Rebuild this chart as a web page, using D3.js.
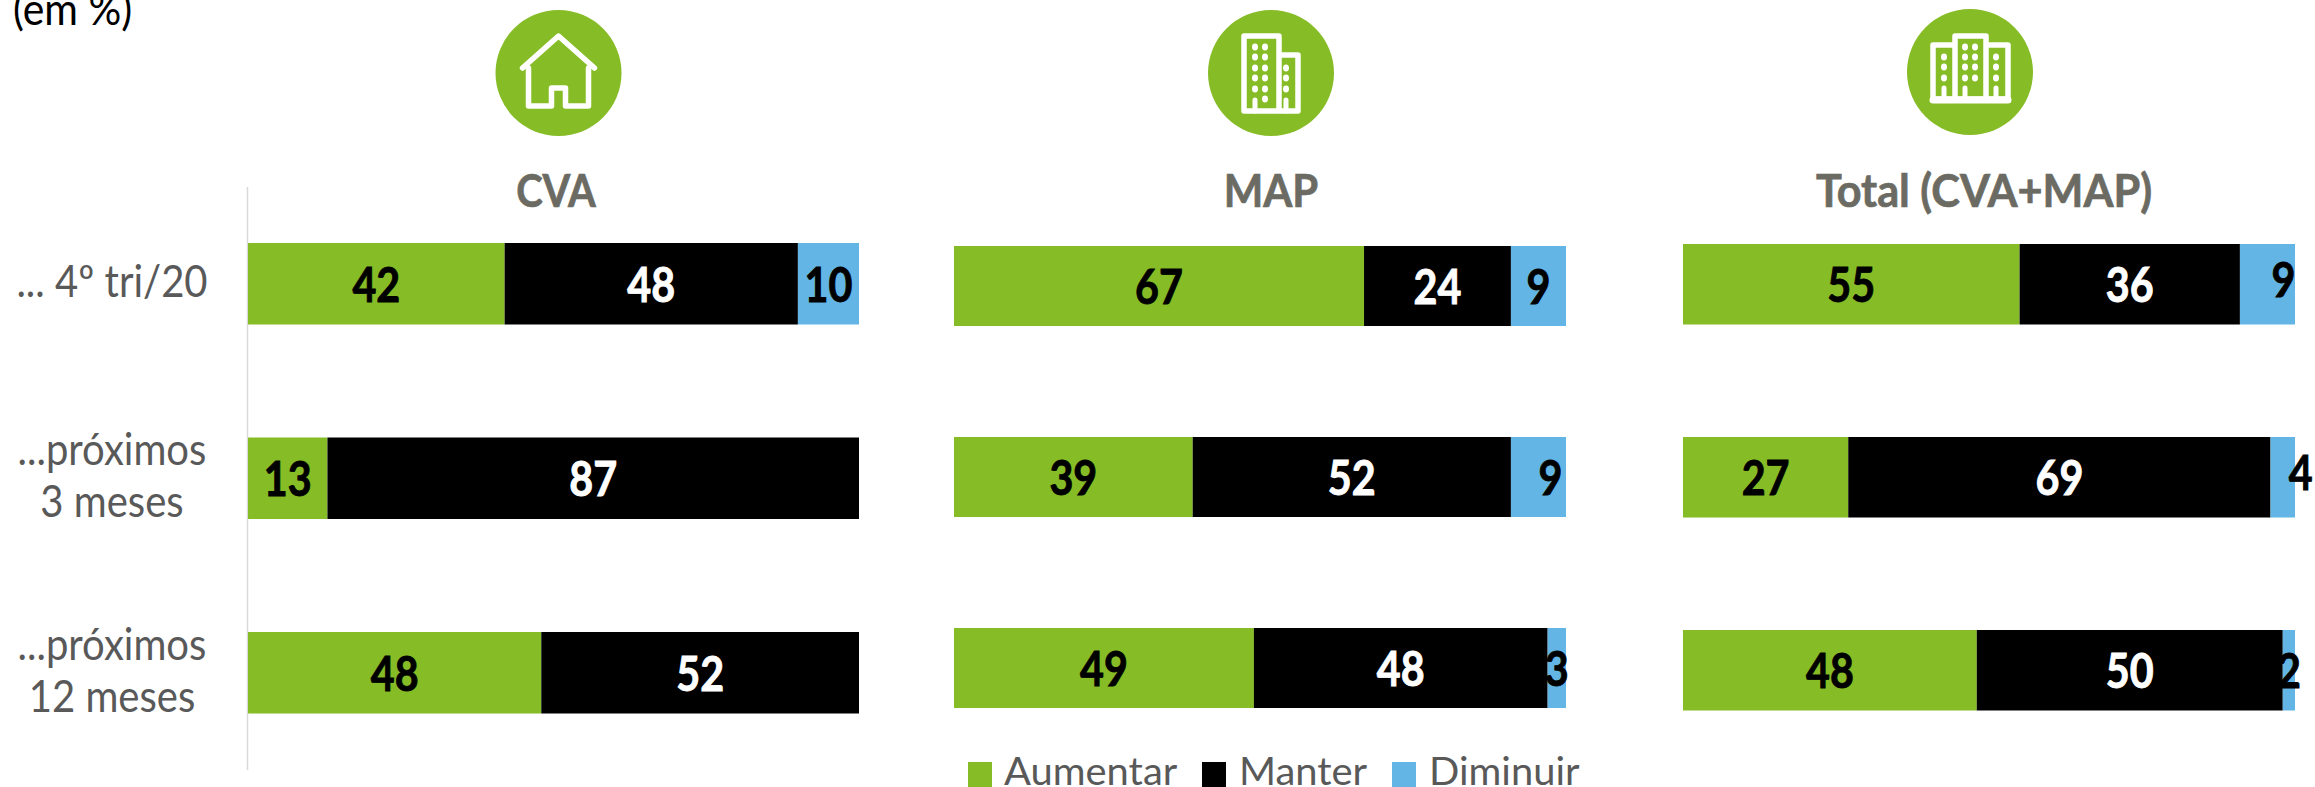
<!DOCTYPE html>
<html>
<head>
<meta charset="utf-8">
<script src="https://cdn.jsdelivr.net/npm/d3@7"></script>
<style>
html, body { margin: 0; background: #fff; overflow: hidden; }
svg { display: block; }
text { font-family: Lato, "Open Sans", sans-serif; }
</style>
</head>
<body>
<div id="chart"></div>
<script>
// dados
var periods = ['... 4º tri/20', '...próximos|3 meses', '...próximos|12 meses'];
var seriesNames = ['Aumentar', 'Manter', 'Diminuir'];
var panelNames = ['CVA', 'MAP', 'Total (CVA+MAP)'];

var aumentar = [[42, 13, 48], [67, 39, 49], [55, 27, 48]];
var manter = [[48, 87, 52], [24, 52, 48], [36, 69, 50]];
var diminuir = [[10, 0, 0], [9, 9, 3], [9, 4, 2]];

var colors = ['#86bc25', '#000000', '#62b5e5'];
var labelColors = ['#000', '#fff', '#000'];

// layout de cada painel (os painéis não estão alinhados no original)
var layout = [
    { x0: 248, x1: 859, top: 243, step: 194.5, band: 81.5, titleX: 556, titleSx: 0.87, iconX: 558.5, iconY: 73 },
    { x0: 954, x1: 1566, top: 246, step: 191, band: 80, titleX: 1271, titleSx: 0.91, iconX: 1271, iconY: 73 },
    { x0: 1683, x1: 2295, top: 244, step: 193, band: 80.5, titleX: 1984, titleSx: 0.94, iconX: 1970, iconY: 72 }
];

// rótulos pequenos deslocados à mão, como no original: painel-linha-série
var nudges = { '1-1-2': [12, 0], '2-0-2': [16, -5], '2-1-2': [18, -5] };

function dots(g, xs, ys) {
    xs.forEach(function(cx) {
        ys.forEach(function(cy) {
            g.append('ellipse').attr('cx', cx).attr('cy', cy).attr('rx', 3).attr('ry', 3.4).attr('fill', '#fff');
        });
    });
}

function outline(g, d, w) {
    g.append('path')
        .attr('d', d)
        .attr('fill', 'none')
        .attr('stroke', '#fff')
        .attr('stroke-width', w)
        .attr('stroke-linejoin', 'round')
        .attr('stroke-linecap', 'round');
}

var drawIcon = [
    function(g) {
        outline(g, 'M-36,-5 L0,-37 L36,-5 M-30,-5 V33 H-7 V15 H7 V33 H30 V-5', 5.5);
    },
    function(g) {
        outline(g, 'M-27,38 V-37 H8 V38 Z M8,-18 H27 V38 H8', 5.5);
        dots(g, [-16, -6], [-26, -16, -5, 5, 16]);
        dots(g, [-6], [26]);
        dots(g, [15], [-5, 5, 16]);
        outline(g, 'M-16,38 V27 M15,38 V27', 5);
    },
    function(g) {
        outline(g, 'M-37,27 V-27 H-15 V-36 H16 V-27 H38 V27 Z M-15,-27 V27 M16,-27 V27', 5.5);
        outline(g, 'M-37,28 H38', 7);
        dots(g, [-26, -5, 5, 26], [-15, -5, 6]);
        dots(g, [-5, 5], [-25]);
        outline(g, 'M-26,27 V16 M-5,27 V16 M26,27 V16', 5);
    }
];

// o original está esticado na vertical, então o texto é comprimido em x
function label(parent, x, y, str, size, sx) {
    return parent.append('text')
        .attr('transform', 'translate(' + x + ',' + y + ') scale(' + sx + ',1)')
        .attr('font-size', size)
        .text(str);
}

var svg = d3.select('#chart')
    .append('svg')
    .attr('width', 2315)
    .attr('height', 787);

label(svg, 13, 25, '(em %)', 44, 0.93).attr('fill', '#000');

// linha vertical à esquerda do primeiro painel
svg.append('line')
    .attr('x1', 247.5)
    .attr('x2', 247.5)
    .attr('y1', 187)
    .attr('y2', 770)
    .attr('stroke', '#d9d9d9')
    .attr('stroke-width', 1.5);

panelNames.forEach(function(name, p) {
    var l = layout[p];
    var x = d3.scaleLinear().domain([0, 100]).range([l.x0, l.x1]);
    var y = d3.scaleBand()
        .domain(periods)
        .range([l.top, l.top + 2 * l.step + l.band])
        .paddingInner((l.step - l.band) / l.step);

    var rows = periods.map(function(period, r) {
        return { period: period, Aumentar: aumentar[p][r], Manter: manter[p][r], Diminuir: diminuir[p][r] };
    });
    var stacked = d3.stack().keys(seriesNames)(rows);

    var g = svg.append('g');

    stacked.forEach(function(layer, s) {
        g.selectAll('rect.s' + s)
            .data(layer)
            .enter()
            .append('rect')
            .attr('class', 's' + s)
            .attr('x', function(d) { return x(d[0]); })
            .attr('y', function(d) { return y(d.data.period); })
            .attr('width', function(d) { return x(d[1]) - x(d[0]); })
            .attr('height', y.bandwidth())
            .attr('fill', colors[s]);
    });

    stacked.forEach(function(layer, s) {
        layer.forEach(function(d, r) {
            var value = d[1] - d[0];
            if (!value) return;
            var nudge = nudges[p + '-' + r + '-' + s] || [0, 0];
            label(g, x((d[0] + d[1]) / 2) + nudge[0], y(d.data.period) + y.bandwidth() / 2 + 18 + nudge[1], value, 48, 0.86)
                .attr('text-anchor', 'middle')
                .attr('font-weight', 700)
                .attr('fill', labelColors[s])
                .attr('stroke', labelColors[s])
                .attr('stroke-width', 0.9);
        });
    });

    label(svg, l.titleX, 207, name, 46, l.titleSx)
        .attr('text-anchor', 'middle')
        .attr('font-weight', 700)
        .attr('fill', '#6b6b63')
        .attr('stroke', '#6b6b63')
        .attr('stroke-width', 0.7);

    var icon = svg.append('g').attr('transform', 'translate(' + l.iconX + ',' + l.iconY + ')');
    icon.append('circle').attr('r', 63).attr('fill', colors[0]);
    drawIcon[p](icon);

    // rótulos das linhas saem do eixo do primeiro painel
    if (p === 0) {
        var axis = svg.append('g')
            .attr('transform', 'translate(112,0)')
            .call(d3.axisLeft(y).tickSize(0).tickFormat(''));
        axis.select('.domain').remove();
        axis.selectAll('.tick').each(function(d) {
            var lines = d.split('|');
            var tick = d3.select(this);
            lines.forEach(function(t, i) {
                var base = lines.length === 1 ? 13 : (i === 0 ? -13 : 39);
                label(tick, 0, base, t, 44, 0.91)
                    .attr('text-anchor', 'middle')
                    .attr('fill', '#595959');
            });
        });
    }
});

// legenda
var legendX = [968, 1202, 1392];
var legendTextX = [1004, 1239, 1429];
seriesNames.forEach(function(name, s) {
    svg.append('rect')
        .attr('x', legendX[s])
        .attr('y', 762)
        .attr('width', 24)
        .attr('height', 25)
        .attr('fill', colors[s]);
    label(svg, legendTextX[s], 785, name, 38, 1.05)
        .attr('fill', '#595959');
});
</script>
</body>
</html>
